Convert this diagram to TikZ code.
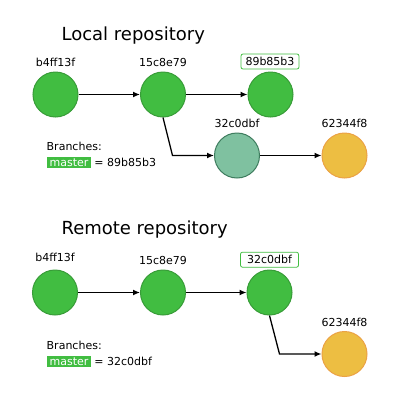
\documentclass[tikz,border=0pt]{standalone}
\usepackage{fontspec}
\setmainfont{DejaVu Sans}
\usetikzlibrary{arrows.meta}

\definecolor{commitgreen}{HTML}{41BD41}
\definecolor{commitgreenline}{HTML}{389C38}
\definecolor{committeal}{HTML}{7FC1A0}
\definecolor{committealline}{HTML}{3E7C5E}
\definecolor{commitorange}{HTML}{EDBE42}
\definecolor{commitorangeline}{HTML}{EBA245}

\tikzset{
    commit/.style={circle,minimum size=45pt,inner sep=0pt,line width=1pt},
    greencommit/.style={commit,fill=commitgreen,draw=commitgreenline},
    tealcommit/.style={commit,fill=committeal,draw=committealline},
    orangecommit/.style={commit,fill=commitorange,draw=commitorangeline},
    sha/.style={font=\fontsize{11}{13}\selectfont,inner sep=1pt},
    headsha/.style={sha,draw=commitgreen,rounded corners=2pt,line width=0.8pt,minimum width=58pt,minimum height=15pt},
    branchtag/.style={sha,fill=commitgreen,text=white,inner xsep=2.5pt,inner ysep=1pt,minimum height=11pt},
    title/.style={font=\fontsize{18}{20}\selectfont,anchor=west},
    parent/.style={-{Latex[length=7pt,width=6pt]},line width=1.3pt}
}

\begin{document}
\begin{tikzpicture}[x=1pt,y=-1pt]
    \useasboundingbox (0,0) rectangle (400,400);
    % Local repository
    \node[title] (localtitle) at (58,36) {Local repository};
    \node[greencommit] (la) at (55.5,94.5) {};
    \node[greencommit] (lb) at (163,94.5) {};
    \node[greencommit] (lc) at (270.5,94.5) {};
    \node[tealcommit] (ld) at (237,155.5) {};
    \node[orangecommit] (le) at (344.5,155.5) {};
    \node[sha] (lasha) at (55.5,62.5) {b4ff13f};
    \node[sha] (lbsha) at (163,62.5) {15c8e79};
    \node[headsha] (lcsha) at (270,61.5) {89b85b3};
    \node[sha] (ldsha) at (237,123) {32c0dbf};
    \node[sha] (lesha) at (344.5,123) {62344f8};
    \coordinate (lbend) at (172.5,155.5);
    \draw[parent] (la) -- (lb);
    \draw[parent] (lb) -- (lc);
    \draw[parent] (lb.south) -- (lbend) -- (ld);
    \draw[parent] (ld) -- (le);
    \node[sha,anchor=west] (lbranches) at (45.5,146) {Branches:};
    \node[branchtag,anchor=west] (lmaster) at (47,162.3) {master};
    \node[sha,anchor=west,xshift=2pt] (lmastersha) at (lmaster.east) {= 89b85b3};
    % Remote repository
    \node[title] (remotetitle) at (58,230) {Remote repository};
    \node[greencommit] (ra) at (55,292.5) {};
    \node[greencommit] (rb) at (163,292.5) {};
    \node[greencommit] (rc) at (269.5,292.5) {};
    \node[orangecommit] (re) at (344.5,354) {};
    \node[sha] (rasha) at (55,257.5) {b4ff13f};
    \node[sha] (rbsha) at (163,260.5) {15c8e79};
    \node[headsha] (rcsha) at (269.5,259.7) {32c0dbf};
    \node[sha] (resha) at (344.5,322.5) {62344f8};
    \coordinate (rbend) at (279.5,354);
    \draw[parent] (ra) -- (rb);
    \draw[parent] (rb) -- (rc);
    \draw[parent] (rc.south) -- (rbend) -- (re);
    \node[sha,anchor=west] (rbranches) at (45.5,345) {Branches:};
    \node[branchtag,anchor=west] (rmaster) at (47,361.3) {master};
    \node[sha,anchor=west,xshift=2pt] (rmastersha) at (rmaster.east) {= 32c0dbf};
\end{tikzpicture}
\end{document}
